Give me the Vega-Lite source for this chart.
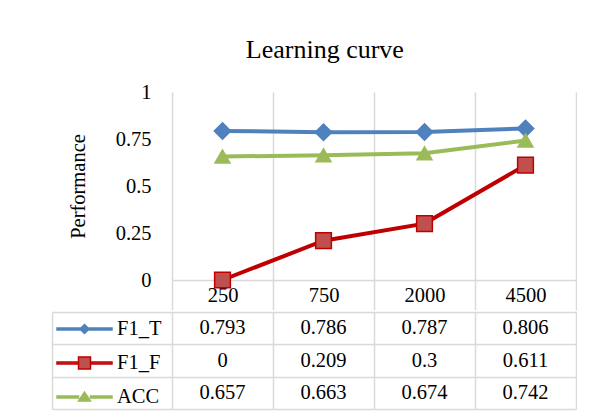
{
  "$schema": "https://vega.github.io/schema/vega-lite/v6.json",
  "background": "white",
  "padding": {"left": 51, "top": 37, "right": 0, "bottom": 0},
  "spacing": 0,
  "title": {"text": "Learning curve", "font": "Liberation Serif", "fontSize": 26, "fontWeight": "normal", "color": "#000000", "anchor": "middle", "offset": 19, "dx": 11},
  "data": {"values": [
    {"series": "F1_T", "size": "250", "value": 0.793},
    {"series": "F1_T", "size": "750", "value": 0.786},
    {"series": "F1_T", "size": "2000", "value": 0.787},
    {"series": "F1_T", "size": "4500", "value": 0.806},
    {"series": "F1_F", "size": "250", "value": 0},
    {"series": "F1_F", "size": "750", "value": 0.209},
    {"series": "F1_F", "size": "2000", "value": 0.3},
    {"series": "F1_F", "size": "4500", "value": 0.611},
    {"series": "ACC", "size": "250", "value": 0.657},
    {"series": "ACC", "size": "750", "value": 0.663},
    {"series": "ACC", "size": "2000", "value": 0.674},
    {"series": "ACC", "size": "4500", "value": 0.742}
  ]},
  "vconcat": [
    {
      "width": 404,
      "height": 188,
      "layer": [
        {
          "mark": {"type": "line", "strokeWidth": 4},
          "encoding": {
            "x": {"field": "size", "type": "ordinal", "sort": ["250", "750", "2000", "4500"], "bandPosition": 0.5,
              "scale": {"type": "band", "paddingInner": 0, "paddingOuter": 0},
              "axis": {"title": null, "grid": true, "gridColor": "#d9d9d9", "gridWidth": 1.5, "tickBand": "extent",
                "ticks": true, "tickSize": 30, "tickColor": "#d9d9d9", "tickWidth": 1.5,
                "domain": true, "domainColor": "#d9d9d9", "domainWidth": 1.5,
                "labelFont": "Liberation Serif", "labelFontSize": 20.5, "labelColor": "#000000",
                "labelAngle": 0, "labelBaseline": "top", "labelPadding": -25}},
            "y": {"field": "value", "type": "quantitative", "scale": {"domain": [0, 1]},
              "axis": {"title": "Performance", "titleFont": "Liberation Serif", "titleFontSize": 20.5, "titleFontWeight": "normal",
                "titleColor": "#000000", "titlePadding": 27, "values": [0, 0.25, 0.5, 0.75, 1], "labelExpr": "'' + datum.value",
                "grid": false, "domain": false, "ticks": false, "labelPadding": 21,
                "labelFont": "Liberation Serif", "labelFontSize": 20.5, "labelColor": "#000000"}},
            "stroke": {"field": "series", "type": "nominal",
              "scale": {"domain": ["F1_T", "F1_F", "ACC"], "range": ["#4F81BD", "#C00000", "#9BBB59"]}, "legend": null}
          }
        },
        {
          "mark": {"type": "point", "filled": true, "opacity": 1, "strokeWidth": 1.5},
          "encoding": {
            "x": {"field": "size", "type": "ordinal", "sort": ["250", "750", "2000", "4500"], "bandPosition": 0.5},
            "y": {"field": "value", "type": "quantitative"},
            "shape": {"field": "series", "type": "nominal",
              "scale": {"domain": ["F1_T", "F1_F", "ACC"], "range": ["diamond", "square", "triangle-up"]}, "legend": null},
            "size": {"field": "series", "type": "nominal",
              "scale": {"domain": ["F1_T", "F1_F", "ACC"], "range": [270, 225, 290]}, "legend": null},
            "fill": {"field": "series", "type": "nominal",
              "scale": {"domain": ["F1_T", "F1_F", "ACC"], "range": ["#4F81BD", "#C0504D", "#9BBB59"]}, "legend": null},
            "stroke": {"field": "series", "type": "nominal", "legend": null}
          }
        }
      ]
    },
    {
      "width": 404,
      "height": 97,
      "layer": [
        {
          "mark": {"type": "text", "font": "Liberation Serif", "fontSize": 20.5, "color": "#000000"},
          "encoding": {
            "x": {"field": "size", "type": "ordinal", "sort": ["250", "750", "2000", "4500"], "bandPosition": 0.5,
              "scale": {"type": "band", "paddingInner": 0, "paddingOuter": 0},
              "axis": {"title": null, "labels": false, "ticks": false, "domain": false, "grid": true,
                "tickBand": "extent", "gridColor": "#d9d9d9", "gridWidth": 1.5}},
            "y": {"field": "series", "type": "nominal", "sort": ["F1_T", "F1_F", "ACC"], "bandPosition": 0.5,
              "scale": {"type": "band", "paddingInner": 0, "paddingOuter": 0},
              "axis": {"title": null, "labels": false, "grid": false, "domain": true, "domainColor": "#d9d9d9",
                "domainWidth": 1.5, "ticks": true, "tickBand": "extent", "tickSize": -524, "tickColor": "#d9d9d9",
                "tickWidth": 1.5, "offset": 120}},
            "text": {"field": "value", "type": "quantitative", "format": "~g"}
          }
        },
        {
          "mark": {"type": "point", "filled": true, "opacity": 0},
          "encoding": {
            "x": {"field": "size", "type": "ordinal", "sort": ["250", "750", "2000", "4500"], "bandPosition": 0.5},
            "y": {"field": "series", "type": "nominal", "sort": ["F1_T", "F1_F", "ACC"], "bandPosition": 0.5},
            "shape": {"field": "series", "type": "nominal", "title": null,
              "scale": {"domain": ["F1_T", "F1_F", "ACC"], "range": [
                "M-2.75,-0.1H-0.45V0.1H-2.75Z M0.45,-0.1H2.75V0.1H0.45Z M-0.45,0L0,-0.45L0.45,0L0,0.45Z",
                "M-2.75,-0.1H-0.6V0.1H-2.75Z M0.6,-0.1H2.75V0.1H0.6Z M-0.6,-0.6H0.6V0.6H-0.6Z",
                "M-2.75,-0.1H-0.6V0.1H-2.75Z M0.6,-0.1H2.75V0.1H0.6Z M-0.6,0.4L0.6,0.4L0,-0.5Z"
              ]}},
            "fill": {"field": "series", "type": "nominal", "title": null,
              "scale": {"domain": ["F1_T", "F1_F", "ACC"], "range": ["#4F81BD", "#C0504D", "#9BBB59"]}},
            "stroke": {"field": "series", "type": "nominal", "title": null,
              "scale": {"domain": ["F1_T", "F1_F", "ACC"], "range": ["#4F81BD", "#C00000", "#9BBB59"]}}
          }
        }
      ]
    }
  ],
  "resolve": {"scale": {"shape": "independent", "fill": "independent", "stroke": "independent", "size": "independent"}},
  "config": {
    "view": {"stroke": null},
    "legend": {"orient": "left", "offset": -117, "padding": 6, "symbolSize": 400, "symbolStrokeWidth": 1.5,
      "symbolOffset": 16.5, "labelOffset": 21.5, "labelFont": "Liberation Serif", "labelFontSize": 20.5,
      "labelColor": "#000000", "rowPadding": 12, "symbolOpacity": 1}
  }
}
